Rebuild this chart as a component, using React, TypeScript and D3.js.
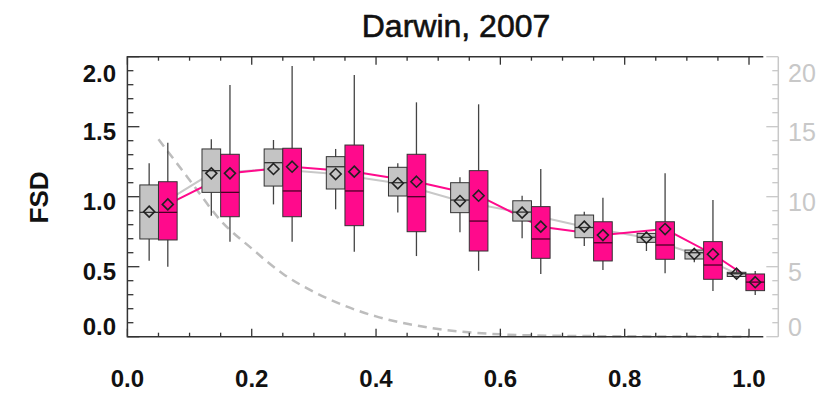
import * as d3 from 'd3'

// bin centres along the x axis (fraction)
const binCenters = [0.05, 0.15, 0.25, 0.35, 0.45, 0.55, 0.65, 0.75, 0.85, 0.927, 0.995]

// grey boxes
const grayLow = [0.543, 0.864, 0.945, 0.91, 0.888, 0.746, 0.703, 0.648, 0.612, 0.531, 0.42]
const grayQ1 = [0.698, 1.031, 1.076, 1.055, 1.005, 0.886, 0.826, 0.707, 0.674, 0.555, 0.43]
const grayMed = [0.888, 1.186, 1.243, 1.214, 1.1, 0.976, 0.89, 0.78, 0.71, 0.6, 0.45]
const grayQ3 = [1.084, 1.341, 1.341, 1.286, 1.21, 1.1, 0.971, 0.869, 0.738, 0.619, 0.46]
const grayHigh = [1.239, 1.41, 1.405, 1.341, 1.239, 1.139, 1.007, 0.893, 0.75, 0.626, 0.48]
const grayMean = [0.893, 1.167, 1.198, 1.162, 1.096, 0.969, 0.886, 0.786, 0.707, 0.591, 0.45]

// pink boxes
const pinkLow = [0.5, 0.679, 0.679, 0.607, 0.576, 0.471, 0.448, 0.476, 0.453, 0.326, 0.298]
const pinkQ1 = [0.691, 0.857, 0.857, 0.793, 0.75, 0.612, 0.56, 0.541, 0.553, 0.41, 0.329]
const pinkMed = [0.888, 1.031, 1.041, 1.041, 1.0, 0.826, 0.698, 0.671, 0.655, 0.512, 0.39]
const pinkQ3 = [1.107, 1.303, 1.346, 1.369, 1.303, 1.186, 0.929, 0.821, 0.821, 0.679, 0.448]
const pinkHigh = [1.386, 1.798, 1.934, 1.869, 1.674, 1.66, 1.198, 0.993, 1.167, 0.976, 0.469]
const pinkMean = [0.945, 1.167, 1.214, 1.179, 1.107, 1.007, 0.786, 0.726, 0.769, 0.589, 0.389]

// dashed curve on the right axis
const dashX = [0.05, 0.1, 0.15, 0.2, 0.25, 0.3, 0.35, 0.4, 0.45, 0.5, 0.6, 0.7, 0.8, 0.9, 1.0]
const dashVal = [14.1, 11.2, 8.3, 6.3, 4.5, 3.2, 2.2, 1.45, 0.92, 0.55, 0.17, 0.06, 0.03, 0.01, 0]

const xTickLabels = ['0.0', '0.2', '0.4', '0.6', '0.8', '1.0']
const yTickLabels = ['0.0', '0.5', '1.0', '1.5', '2.0']
const yRightLabels = ['0', '5', '10', '15', '20']

const W = 824
const H = 393
const left = 127.4
const right = 763.3
const top = 56.7
const bottom = 336.7
const rightAxisX = 778.3
const boxW = 0.03

const PINK = '#ff0a8c'
const GRAY = '#c4c4c4'
const LIGHT = '#c8c8c8'
const font = 'Liberation Sans, Arial, Helvetica, sans-serif'

export default function App() {
    const x = d3.scaleLinear().domain([0, 1.023]).range([left, right])
    const y = d3.scaleLinear().domain([0, 2]).range([bottom, top])
    const yR = d3.scaleLinear().domain([0, 20]).range([bottom, top])

    const grayLine = d3
        .line<number>()
        .x((c) => x(c - boxW / 2))
        .y((_, i) => y(grayMean[i]))
    const pinkLine = d3
        .line<number>()
        .x((c) => x(c + boxW / 2))
        .y((_, i) => y(pinkMean[i]))
    const dashLine = d3
        .line<number>()
        .x((d) => x(d))
        .y((_, i) => yR(dashVal[i]))
        .curve(d3.curveMonotoneX)

    // labels kept inside the frame like the original
    const labelY = (py: number) => Math.min(Math.max(py + 5, top + 16.5), bottom - 10)

    const yMinor = d3.range(0, 2.001, 0.1)
    const xMinor = d3.range(0, 1.001, 0.05)

    const diamond = (cx: number, cy: number, r = 5.5) =>
        `M${cx},${cy - r}L${cx + r},${cy}L${cx},${cy + r}L${cx - r},${cy}Z`

    const drawBox = (
        c: number,
        i: number,
        side: number,
        low: number[],
        q1: number[],
        med: number[],
        q3: number[],
        high: number[],
        fill: string,
        medStroke: string,
    ) => {
        const x0 = side < 0 ? x(c - boxW) : x(c)
        const x1 = side < 0 ? x(c) : x(c + boxW)
        const xm = (x0 + x1) / 2
        return (
            <g key={`${side}-${i}`}>
                <line x1={xm} x2={xm} y1={y(high[i])} y2={y(low[i])} stroke="#444" strokeWidth={1.3} />
                <rect
                    x={x0}
                    y={y(q3[i])}
                    width={x1 - x0}
                    height={y(q1[i]) - y(q3[i])}
                    fill={fill}
                    stroke="#333"
                    strokeWidth={1}
                />
                <line x1={x0} x2={x1} y1={y(med[i])} y2={y(med[i])} stroke={medStroke} strokeWidth={1.3} />
            </g>
        )
    }

    return (
        <svg
            width={W}
            height={H}
            style={{ position: 'absolute', left: 0, top: 0, background: 'white' }}
        >
            {/* title */}
            <text
                x={456}
                y={36.5}
                textAnchor="middle"
                fontFamily={font}
                fontSize={32}
                fill="#111"
                stroke="#111"
                strokeWidth={0.6}
            >
                Darwin, 2007
            </text>
            <text
                transform={`translate(48,197.5) rotate(-90)`}
                textAnchor="middle"
                fontFamily={font}
                fontSize={26}
                fontWeight="bold"
                fill="#111"
            >
                FSD
            </text>

            {/* right axis */}
            <line x1={rightAxisX} x2={rightAxisX} y1={top} y2={bottom} stroke={LIGHT} strokeWidth={1.5} />
            {d3.range(0, 20.01, 1).map((v) => (
                <line
                    key={`rt${v}`}
                    x1={rightAxisX}
                    x2={rightAxisX - (v % 5 === 0 ? 12 : 6)}
                    y1={yR(v)}
                    y2={yR(v)}
                    stroke={LIGHT}
                    strokeWidth={1.3}
                />
            ))}
            {yRightLabels.map((t) => (
                <text
                    key={`rl${t}`}
                    x={788}
                    y={labelY(yR(+t))}
                    dy="0.36em"
                    fontFamily={font}
                    fontSize={25}
                    fill={LIGHT}
                >
                    {t}
                </text>
            ))}

            {/* dashed curve */}
            <path
                d={dashLine(dashX) ?? undefined}
                fill="none"
                stroke="#bdbdbd"
                strokeWidth={2.5}
                strokeDasharray="9 6"
            />

            {/* mean lines */}
            <path d={grayLine(binCenters) ?? undefined} fill="none" stroke={LIGHT} strokeWidth={2} />
            <path d={pinkLine(binCenters) ?? undefined} fill="none" stroke={PINK} strokeWidth={2} />

            {/* boxes */}
            {binCenters.map((c, i) =>
                drawBox(c, i, -1, grayLow, grayQ1, grayMed, grayQ3, grayHigh, GRAY, '#333'),
            )}
            {binCenters.map((c, i) =>
                drawBox(c, i, 1, pinkLow, pinkQ1, pinkMed, pinkQ3, pinkHigh, PINK, '#4a0025'),
            )}
            {binCenters.map((c, i) => (
                <g key={`m${i}`}>
                    <path
                        d={diamond(x(c - boxW / 2), y(grayMean[i]))}
                        fill="none"
                        stroke="#222"
                        strokeWidth={1.6}
                    />
                    <path
                        d={diamond(x(c + boxW / 2), y(pinkMean[i]))}
                        fill="none"
                        stroke="#222"
                        strokeWidth={1.6}
                    />
                </g>
            ))}

            {/* frame */}
            <path
                d={`M${right},${top}H${left}V${bottom}H${right}`}
                fill="none"
                stroke="#333"
                strokeWidth={1.5}
            />
            {yMinor.map((v, k) => (
                <line
                    key={`yt${k}`}
                    x1={left}
                    x2={left + (k % 5 === 0 ? 12 : 6)}
                    y1={y(v)}
                    y2={y(v)}
                    stroke="#333"
                    strokeWidth={1.3}
                />
            ))}
            {xMinor.map((v, k) => (
                <g key={`xt${k}`}>
                    <line
                        x1={x(v)}
                        x2={x(v)}
                        y1={bottom}
                        y2={bottom - (k % 4 === 0 ? 8 : 4)}
                        stroke="#333"
                        strokeWidth={1.3}
                    />
                    <line
                        x1={x(v)}
                        x2={x(v)}
                        y1={top}
                        y2={top + (k % 4 === 0 ? 8 : 4)}
                        stroke="#333"
                        strokeWidth={1.3}
                    />
                </g>
            ))}
            {yTickLabels.map((t) => (
                <text
                    key={`yl${t}`}
                    x={116}
                    y={labelY(y(+t))}
                    dy="0.36em"
                    textAnchor="end"
                    fontFamily={font}
                    fontSize={24}
                    fontWeight="bold"
                    fill="#111"
                >
                    {t}
                </text>
            ))}
            {xTickLabels.map((t) => (
                <text
                    key={`xl${t}`}
                    x={x(+t)}
                    y={378}
                    dy="0.36em"
                    textAnchor="middle"
                    fontFamily={font}
                    fontSize={24}
                    fontWeight="bold"
                    fill="#111"
                >
                    {t}
                </text>
            ))}
        </svg>
    )
}
